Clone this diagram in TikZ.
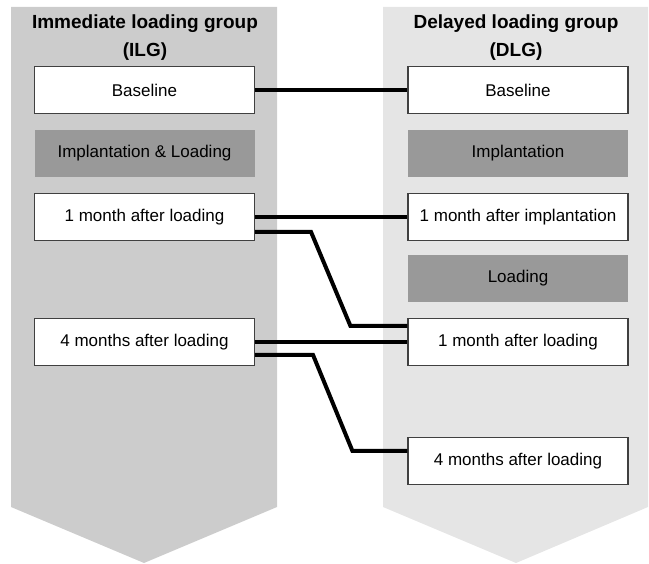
\documentclass[tikz,border=0pt]{standalone}
\usepackage{fontspec}
\setmainfont{Liberation Sans}
\usepackage{tikz}

\begin{document}
\begin{tikzpicture}[x=1pt,y=-1pt,
    visit/.style={draw=black!75,fill=white,line width=1.1pt,minimum width=220pt,minimum height=47pt,inner sep=0pt,font=\fontsize{17}{20}\selectfont},
    event/.style={fill=black!40,minimum width=220pt,minimum height=47pt,inner sep=0pt,font=\fontsize{17}{20}\selectfont},
    grouptitle/.style={anchor=north,align=center,inner sep=0pt,font=\bfseries\fontsize{19}{28}\selectfont},
    link/.style={line width=4pt}]

\useasboundingbox (0,0) rectangle (649,564);

\fill[black!20] (11,7)--(277,7)--(277,507)--(144,563)--(11,507)--cycle;
\fill[black!10] (383,7)--(648,7)--(648,507)--(516,563)--(383,507)--cycle;

\node[grouptitle] (ilg) at (145,15) {Immediate loading group\\(ILG)};
\node[grouptitle] (dlg) at (516,15) {Delayed loading group\\(DLG)};

\node[visit] (ilgbase) at (144.5,90) {Baseline};
\node[event] (ilgimpl) at (144.5,153.5) {Implantation \& Loading};
\node[visit] (ilg1) at (144.5,217) {1 month after loading};
\node[visit] (ilg4) at (144.5,342) {4 months after loading};

\node[visit] (dlgbase) at (518,90) {Baseline};
\node[event] (dlgimpl) at (518,153.5) {Implantation};
\node[visit] (dlg1) at (518,217) {1 month after implantation};
\node[event] (dlgload) at (518,278.5) {Loading};
\node[visit] (dlg2) at (518,342) {1 month after loading};
\node[visit] (dlg4) at (518,461) {4 months after loading};

\draw[link] (ilgbase.east)--(dlgbase.west);
\draw[link] (ilg1.east)--(dlg1.west);
\draw[link] ([yshift=-15pt]ilg1.east)--++(56,0)--([xshift=-57pt,yshift=16pt]dlg2.west)--([yshift=16pt]dlg2.west);
\draw[link] (ilg4.east)--(dlg2.west);
\draw[link] ([yshift=-13pt]ilg4.east)--++(58,0)--([xshift=-55pt,yshift=10pt]dlg4.west)--([yshift=10pt]dlg4.west);

\end{tikzpicture}
\end{document}
